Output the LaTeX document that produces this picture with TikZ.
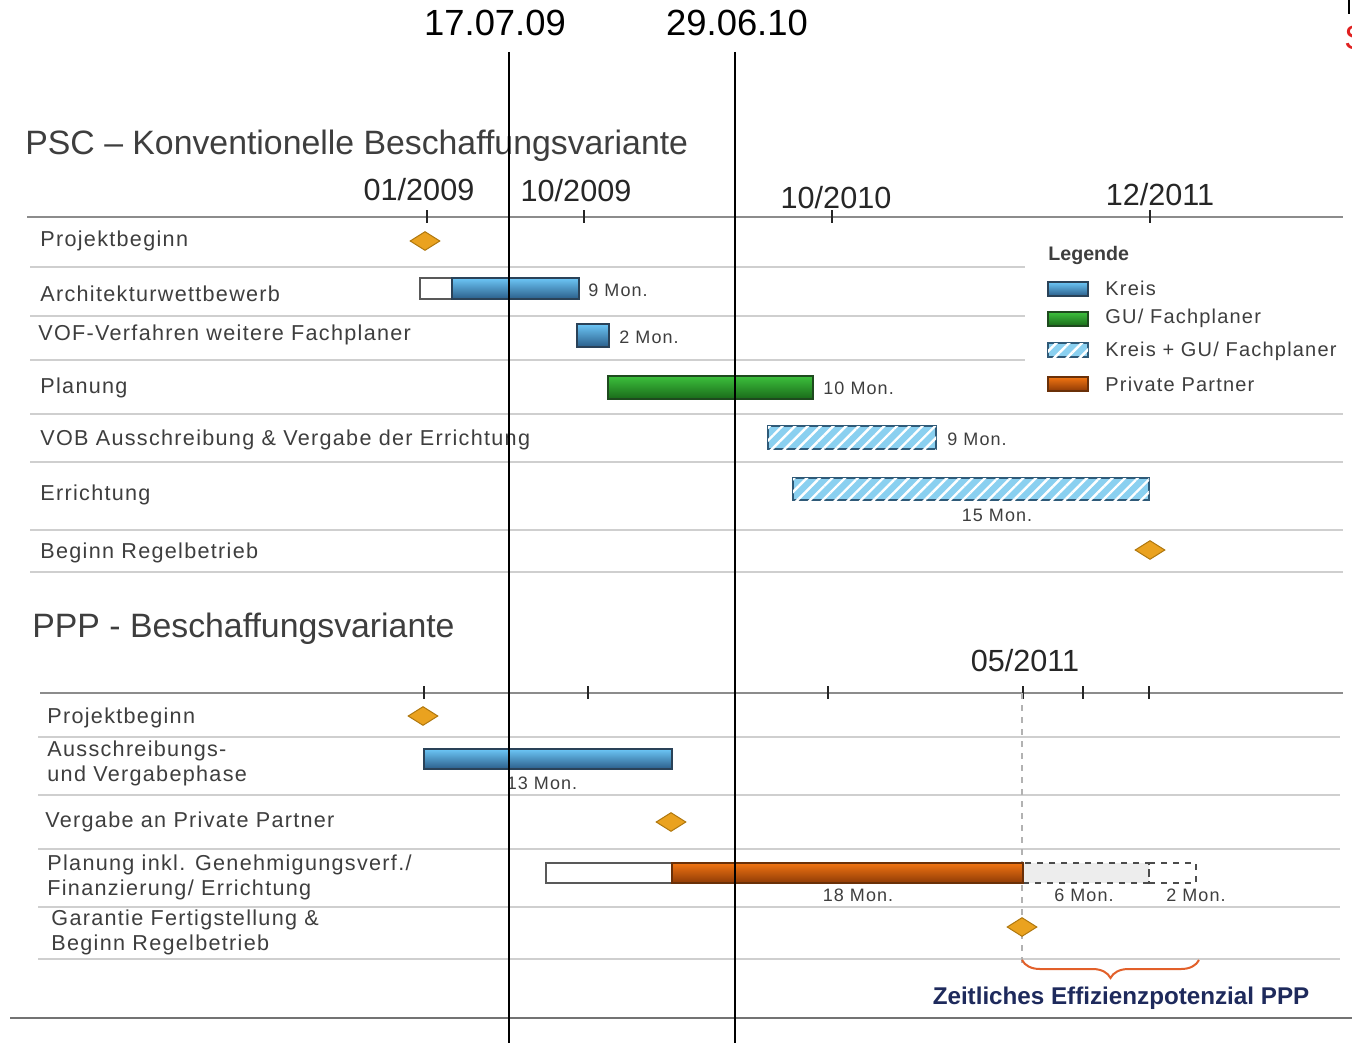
\documentclass[tikz,border=0pt]{standalone}
\usepackage{fontspec}
\setmainfont{Liberation Sans}
\newfontfamily\lblfont[LetterSpace=6]{Liberation Sans}
\usetikzlibrary{shapes.geometric,patterns.meta,decorations.pathreplacing}
\definecolor{txt}{HTML}{3E3E3E}
\definecolor{sepc}{HTML}{CFCFCF}
\definecolor{axisc}{HTML}{8C8C8C}
\definecolor{kreisT}{HTML}{6CC6F6}
\definecolor{kreisB}{HTML}{2B5E8A}
\definecolor{kreisD}{HTML}{2A4258}
\definecolor{gruenT}{HTML}{3CC03C}
\definecolor{gruenB}{HTML}{1A6A1A}
\definecolor{gruenD}{HTML}{1E4A1E}
\definecolor{orT}{HTML}{F27512}
\definecolor{orB}{HTML}{8E3A06}
\definecolor{orD}{HTML}{6A3008}
\definecolor{diaF}{HTML}{EAA21F}
\definecolor{diaD}{HTML}{B0780F}
\definecolor{hatchF}{HTML}{8AD0F0}
\definecolor{hatchD}{HTML}{2F5A78}
\definecolor{bracec}{HTML}{E2602A}
\definecolor{navy}{HTML}{1E2A5C}
\definecolor{redS}{HTML}{E02020}
\tikzset{
  bar/.style={inner sep=0pt, outer sep=0pt, anchor=west, line width=0.6pt},
  kreisbar/.style={bar, draw=kreisD, top color=kreisT, bottom color=kreisB},
  gruenbar/.style={bar, draw=gruenD, top color=gruenT, bottom color=gruenB},
  orbar/.style={bar, draw=orD, top color=orT, bottom color=orB},
  whitebar/.style={bar, draw=gray!70!black, fill=white},
  hatchbar/.style={bar, draw=hatchD, fill=hatchF,
    postaction={pattern={Lines[angle=45,distance=4.5pt,line width=1.2pt]}, pattern color=white}},
  planbar/.style={bar, draw=black!70, dashed, fill=black!7},
  openbar/.style={bar, draw=black!70, dashed},
  milestone/.style={diamond, draw=diaD, fill=diaF, line width=0.5pt, inner sep=0pt,
    minimum width=15pt, minimum height=9.5pt},
  rowlabel/.style={anchor=west, inner sep=0pt, text=txt, font=\lblfont\fontsize{10.8}{12.5}\selectfont, align=left},
  durlabel/.style={inner sep=0pt, text=txt, font=\lblfont\fontsize{9}{11}\selectfont},
  datelabel/.style={inner sep=0pt, text=black!85, font=\fontsize{15.3}{18}\selectfont},
  heading/.style={anchor=west, inner sep=0pt, text=txt, font=\fontsize{16.9}{19}\selectfont},
  markdate/.style={inner sep=0pt, text=black, font=\fontsize{18.2}{21}\selectfont},
  sepline/.style={draw=sepc, line width=0.7pt},
  axisline/.style={draw=axisc, line width=1.1pt},
  tickmark/.style={draw=black!85, line width=1pt},
  markline/.style={draw=black, line width=1pt},
  swatch/.style={inner sep=0pt, outer sep=0pt, anchor=west, minimum width=20pt, minimum height=7pt, line width=0.6pt},
  legtext/.style={anchor=west, inner sep=0pt, text=txt, font=\lblfont\fontsize{10}{12}\selectfont}
}
\begin{document}
\begin{tikzpicture}[x=0.5pt, y=-0.5pt]
\useasboundingbox (0,0) rectangle (1352,1043);
\fill[white] (0,0) rectangle (1352,1043);

% ---------- PSC header ----------
\node[heading] (psctitle) at (25,146) {PSC -- Konventionelle Beschaffungsvariante};
\path[axisline] (27,217) -- (1343,217);
\foreach \tx in {427,584,832,1150} \draw[tickmark] (\tx,210) -- (\tx,223);
\node[datelabel] (d1) at (419,190) {01/2009};
\node[datelabel] (d2) at (576,191) {10/2009};
\node[datelabel] (d3) at (836,198) {10/2010};
\node[datelabel] (d4) at (1160,195) {12/2011};

% separators PSC
\foreach \yy in {267,316,360} \path[sepline] (30,\yy) -- (1025,\yy);
\foreach \yy in {414,462,530,572} \path[sepline] (30,\yy) -- (1343,\yy);

% rows PSC
\node[rowlabel] (l1) at (40,241) {Projektbeginn};
\node[milestone] (m1) at (425,241) {};

\node[rowlabel] (l2) at (40,294) {Architekturwettbewerb};
\node[whitebar, minimum width=16pt, minimum height=10.5pt] (b2a) at (420,288.5) {};
\node[kreisbar, minimum width=63.5pt, minimum height=10.5pt] (b2b) at (452,288.5) {};
\node[durlabel, anchor=west] (t2) at (588,290) {9 Mon.};

\node[rowlabel] (l3) at (38,335) {VOF-Verfahren weitere Fachplaner};
\node[kreisbar, minimum width=16pt, minimum height=11.5pt] (b3) at (577,335.5) {};
\node[durlabel, anchor=west] (t3) at (619,337) {2 Mon.};

\node[rowlabel] (l4) at (40,388) {Planung};
\node[gruenbar, minimum width=102.5pt, minimum height=11.5pt] (b4) at (608,387.5) {};
\node[durlabel, anchor=west] (t4) at (823,388) {10 Mon.};

\node[rowlabel] (l5) at (40,440) {VOB Ausschreibung \& Vergabe der Errichtung};
\node[hatchbar, minimum width=84pt, minimum height=11.5pt] (b5) at (768,437.5) {};
\node[durlabel, anchor=west] (t5) at (947,439) {9 Mon.};

\node[rowlabel] (l6) at (40,495) {Errichtung};
\node[hatchbar, minimum width=178pt, minimum height=11pt] (b6) at (793,489) {};
\node[durlabel] (t6) at (997,515) {15 Mon.};

\node[rowlabel] (l7) at (40,553) {Beginn Regelbetrieb};
\node[milestone] (m7) at (1150,550) {};

% legend
\node[anchor=west, inner sep=0pt, text=txt, font=\bfseries\fontsize{9.8}{12}\selectfont] (leg) at (1048,255) {Legende};
\node[swatch, draw=kreisD, top color=kreisT, bottom color=kreisB] (s1) at (1048,289) {};
\node[swatch, draw=gruenD, top color=gruenT, bottom color=gruenB] (s2) at (1048,319) {};
\node[swatch, draw=hatchD, fill=hatchF, postaction={pattern={Lines[angle=45,distance=4.5pt,line width=1.2pt]}, pattern color=white}] (s3) at (1048,350) {};
\node[swatch, draw=orD, top color=orT, bottom color=orB] (s4) at (1048,384) {};
\node[legtext] (g1) at (1105,288) {Kreis};
\node[legtext] (g2) at (1105,318) {GU/ Fachplaner};
\node[legtext] (g3) at (1105,351) {Kreis + GU/ Fachplaner};
\node[legtext] (g4) at (1105,384) {Private Partner};

% ---------- PPP ----------
\node[heading] (ppptitle) at (32,629) {PPP - Beschaffungsvariante};
\node[datelabel] (d5) at (1025,661) {05/2011};
\path[axisline] (40,693) -- (1343,693);
\foreach \tx in {424,588,828,1023,1083,1149} \draw[tickmark] (\tx,686) -- (\tx,699);
\foreach \yy in {737,795,849,907,959} \path[sepline] (38,\yy) -- (1340,\yy);

\coordinate (vd1) at (1022,693);
\coordinate (vd2) at (1022,968);
\draw[black!30, dashed, line width=0.6pt] (vd1) -- (vd2);

\node[rowlabel] (p1) at (47,718) {Projektbeginn};
\node[milestone] (pm1) at (423,716) {};

\node[rowlabel] (p2) at (47,763) {Ausschreibungs-\\und Vergabephase};
\node[kreisbar, minimum width=124pt, minimum height=10pt] (pb2) at (424,759) {};
\node[durlabel] (pt2) at (542,783) {13 Mon.};

\node[rowlabel] (p3) at (45,822) {Vergabe an Private Partner};
\node[milestone] (pm3) at (671,822) {};

\node[rowlabel] (p4) at (47,877) {Planung inkl. Genehmigungsverf./\\Finanzierung/ Errichtung};
\node[whitebar, minimum width=63pt, minimum height=10pt] (pb4a) at (546,873) {};
\node[planbar, minimum width=63pt, minimum height=10pt] (pb4c) at (1023,873) {};
\node[openbar, minimum width=23.5pt, minimum height=10pt] (pb4d) at (1149,873) {};
\node[orbar, minimum width=175.5pt, minimum height=10pt] (pb4b) at (672,873) {};
\node[durlabel] (pt4a) at (858,895) {18 Mon.};
\node[durlabel] (pt4b) at (1084,895) {6 Mon.};
\node[durlabel] (pt4c) at (1196,895) {2 Mon.};

\node[rowlabel] (p5) at (51,932) {Garantie Fertigstellung \&\\Beginn Regelbetrieb};
\node[milestone] (pm5) at (1022,927) {};

% brace
\coordinate (br1) at (1022,960);
\coordinate (br2) at (1199,960);
\draw[bracec, line width=1pt, decorate, decoration={brace, amplitude=9pt, mirror}] (br1) -- (br2);
\node[inner sep=0pt, text=navy, font=\bfseries\fontsize{12.1}{14}\selectfont] (eff) at (1121,998) {Zeitliches Effizienzpotenzial PPP};

\draw[black!55, line width=1pt] (10,1018) -- (1352,1018);

% ---------- markers ----------
\node[markdate] (k1) at (495,23) {17.07.09};
\node[markdate] (k2) at (737,23) {29.06.10};
\coordinate (v1t) at (509,52);
\coordinate (v1b) at (509,1043);
\coordinate (v2t) at (735,52);
\coordinate (v2b) at (735,1043);
\path[markline] (v1t) -- (v1b);
\path[markline] (v2t) -- (v2b);

% top-right fragment
\draw[black, line width=1pt] (1349,0) -- (1349,14);
\node[anchor=west, inner sep=0pt, text=redS, font=\fontsize{17}{20}\selectfont] (frag) at (1344,38) {S};
\end{tikzpicture}
\end{document}
